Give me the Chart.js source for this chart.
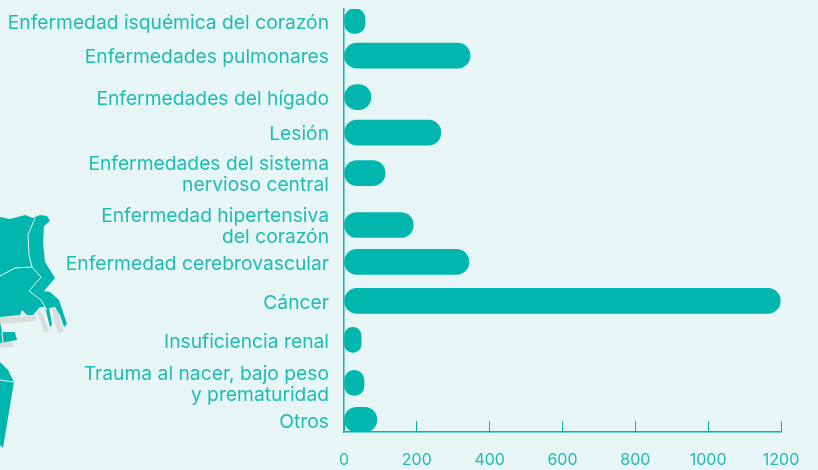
<!DOCTYPE html>
<html><head><meta charset="utf-8">
<style>html,body{margin:0;padding:0;background:#e8f5f5}#w{width:818px;height:470px;position:relative}</style>
<script src="https://cdn.jsdelivr.net/npm/chart.js@4"></script>
</head><body><div id="w"><canvas id="c" width="818" height="470"></canvas></div>
<script>
const categories=[
 "Enfermedad isquémica del corazón","Enfermedades pulmonares","Enfermedades del hígado","Lesión",
 ["Enfermedades del sistema","nervioso central"],["Enfermedad hipertensiva","del corazón"],
 "Enfermedad cerebrovascular","Cáncer","Insuficiencia renal",
 ["Trauma al nacer, bajo peso","y prematuridad"],"Otros"];
const values=[58,346,74,266,113,190,343,1198,47,55,90];
const xTicks=[0,200,400,600,800,1000,1200];
const rowNudge=[-7,-11,-8,-11,-9,4.5,3,3.5,4,8.6,7];
const TEAL="#00b6ae",TEXT="#1cbdb3",BG="#e8f5f5";

class RowCategoryScale extends Chart.CategoryScale{
  getPixelForValue(v){
    const i=typeof v==="number"?Math.round(v):0;
    return super.getPixelForValue(v)+(rowNudge[i]||0);
  }
}
RowCategoryScale.id="rowCategory";
RowCategoryScale.defaults=Chart.CategoryScale.defaults;
Chart.register(RowCategoryScale);

const mapShapes=[
 {c:"#d9dddd",p:[[0,317],[36,316],[36,321],[0,324]]},
 {c:"#d9dddd",p:[[36,310],[42,312],[49,331],[44,333],[41,322]]},
 {c:"#d9dddd",p:[[52,308],[57,309],[64,332],[58,333],[55,322]]},
 {c:"#d9dddd",p:[[0,343],[12,341],[14,347],[0,347]]},
 {c:TEAL,p:[[0,217],[10,219],[25,215],[33,218],[40,215],[47,216],[50,221],[44,226],[43,243],[45,262],[55,278],[44,291],[50,292],[59,300],[67,324],[64,327],[60,315],[55,307],[49,308],[52,325],[50,327],[45,307],[40,307],[33,315],[27,315],[22,310],[20,315],[0,317]]},
 {c:TEAL,p:[[0,322],[2,332],[15,332],[17,340],[0,343]]},
 {c:TEAL,p:[[0,362],[8,370],[14,382],[3,448],[0,445]]}
];
const mapLines=[
 [[35,218],[28,235],[29,255],[32,267],[41,277],[29,291],[41,300],[47,310]],
 [[0,276],[15,268],[32,267]],
 [[2,332],[3,343]],
 [[0,380],[14,382]]
];
const backdrop={id:"backdrop",beforeDraw(ch){
  const g=ch.ctx;g.save();
  g.fillStyle=BG;g.fillRect(0,0,ch.width,ch.height);
  for(const s of mapShapes){g.fillStyle=s.c;g.beginPath();s.p.forEach((q,i)=>i?g.lineTo(q[0],q[1]):g.moveTo(q[0],q[1]));g.closePath();g.fill();}
  g.strokeStyle="#e8f5f5";g.lineWidth=1;
  for(const l of mapLines){g.beginPath();l.forEach((q,i)=>i?g.lineTo(q[0],q[1]):g.moveTo(q[0],q[1]));g.stroke();}
  g.restore();
}};

new Chart(document.getElementById("c"),{
 type:"bar",
 data:{labels:categories,datasets:[{data:values,backgroundColor:TEAL,barThickness:25,borderRadius:13,borderSkipped:false}]},
 plugins:[backdrop],
 options:{
  indexAxis:"y",responsive:false,animation:false,
  layout:{padding:{top:9,right:37,bottom:0,left:0}},
  plugins:{legend:{display:false},tooltip:{enabled:false}},
  scales:{
   x:{type:"linear",min:0,max:1200,afterFit(s){s.height=38;s.paddingLeft=0;s.paddingRight=0;},afterBuildTicks(s){s.ticks=xTicks.map(v=>({value:v}));},
      border:{color:TEAL,width:1.5},
      grid:{drawOnChartArea:false,drawTicks:true,tickLength:-11,color:TEAL,lineWidth:1},
      ticks:{color:TEXT,font:{family:"Inter",size:16},padding:30,maxRotation:0,autoSkip:false,callback:v=>String(v)}},
   y:{type:"rowCategory",afterFit(s){s.width=344;s.paddingTop=0;s.paddingBottom=0;},
      border:{color:TEAL,width:1.5},
      grid:{display:true,drawOnChartArea:false,drawTicks:false,tickLength:0},
      ticks:{color:TEXT,font:{family:"Inter",size:19.25,lineHeight:1.1},padding:15,labelOffset:2,autoSkip:false}}
  }
 }
});
</script></body></html>
